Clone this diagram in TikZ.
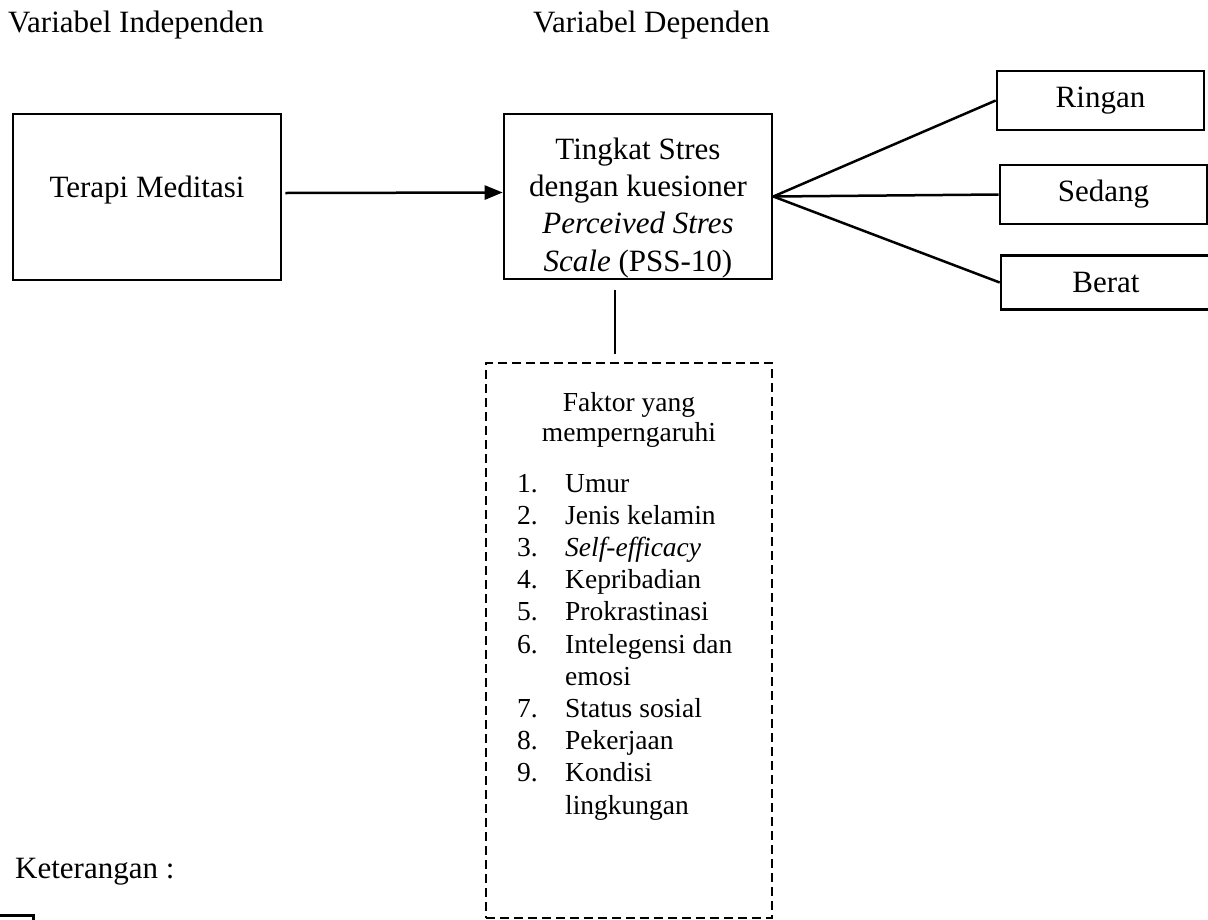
\documentclass[tikz,border=0pt]{standalone}
\usepackage{fontspec}
\setmainfont{Liberation Serif}
\usetikzlibrary{arrows.meta}
\usetikzlibrary{positioning}
\tikzset{
    bigbox/.style={
      rectangle,
           draw=black, line width=2.6pt,
           inner sep=2pt,
           text centered,
           minimum width=268pt,
           minimum height=166pt,
           font=\fontsize{31}{37.3}\selectfont,
           },
}
\tikzset{
    levelbox/.style={
      rectangle,
           draw=black, line width=2.6pt,
           inner sep=2pt,
           text centered,
           minimum width=207pt,
           minimum height=59pt,
           font=\fontsize{31}{36}\selectfont,
           },
}
\tikzset{
    factorbox/.style={
      rectangle,
           draw=black, line width=2.5pt,
           dash pattern=on 9pt off 5pt,
           minimum width=286pt,
           minimum height=555pt,
           },
}
\tikzset{
    plain/.style={
           inner sep=0pt,
           font=\fontsize{31}{36}\selectfont,
           },
}
\tikzset{
    line/.style={
           draw=black, line width=2.5pt,
           },
}

\begin{document}
\begin{tikzpicture}[x=1pt,y=-1pt]
\useasboundingbox (0,0) rectangle (1208,919);

\node[plain,anchor=base west](vi) at (8,32){Variabel Independen};
\node[plain,anchor=base west](vd) at (533,32){Variabel Dependen};

\node[bigbox,text height=20pt,text depth=20pt](tm) at (147,197){Terapi Meditasi};
\node[bigbox,align=center,inner sep=0pt,minimum height=165pt](tk) at (638,196.5){\rule{0pt}{44pt}Tingkat Stres\\dengan kuesioner\\\textit{Perceived Stres}\\\textit{Scale} (PSS-10)};

\path ([xshift=3pt,yshift=4pt]tm.east) edge[line,-{Triangle[length=18pt,width=14pt]}] ([yshift=4pt]tk.west);

\node[levelbox](rg) at (1100.5,100.5){Ringan};
\node[levelbox](sd) at (1103.5,194.5){Sedang};
\node[levelbox,minimum width=210pt,minimum height=54pt](br) at (1106,282.5){Berat};

\path (tk.east) edge[line](rg.west);
\path (tk.east) edge[line](sd.west);
\path (tk.east) edge[line](br.west);

\node[factorbox](fk) at (629,640.5){};
\coordinate[below left=10pt and 23pt of tk.south](ta);
\coordinate[above left=8pt and 14pt of fk.north](tb);
\path (ta) edge[line](tb);

\node[plain,font=\fontsize{27.5}{30}\selectfont,align=center,anchor=north](ft) at (629,392.6){Faktor yang\\memperngaruhi};
\node[plain,font=\fontsize{27.5}{32.2}\selectfont,align=left,anchor=north west](fl) at (517,473.7){%
\makebox[48pt][l]{1.}Umur\\
\makebox[48pt][l]{2.}Jenis kelamin\\
\makebox[48pt][l]{3.}\textit{Self-efficacy}\\
\makebox[48pt][l]{4.}Kepribadian\\
\makebox[48pt][l]{5.}Prokrastinasi\\
\makebox[48pt][l]{6.}Intelegensi dan\\
\makebox[48pt][l]{}emosi\\
\makebox[48pt][l]{7.}Status sosial\\
\makebox[48pt][l]{8.}Pekerjaan\\
\makebox[48pt][l]{9.}Kondisi\\
\makebox[48pt][l]{}lingkungan};

\node[plain,anchor=base west](kt) at (15,878){Keterangan :};
\node[draw=black,line width=2.6pt,inner sep=0pt,minimum width=40pt,minimum height=30pt,anchor=north east](lg) at (35,914){};

\end{tikzpicture}
\end{document}
